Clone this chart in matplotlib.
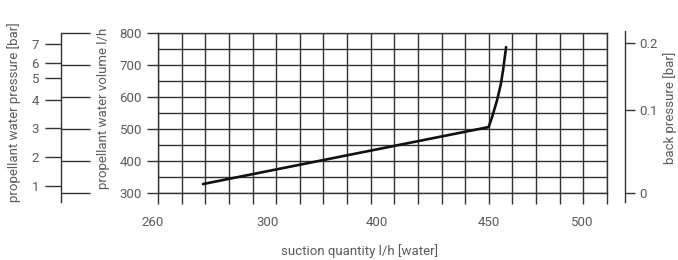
import numpy as np
import matplotlib
matplotlib.use("Agg")
import matplotlib.pyplot as plt
import matplotlib.transforms as mtransforms

# ---------------- data ----------------
# suction quantity axis labels (nomogram, non-linear spacing)
x_label_values = [260, 300, 400, 450, 500]
# characteristic curve: suction quantity l/h vs propellant water volume l/h
curve_suction = [277.4, 450.0, 452.0, 454.5, 456.5, 457.7, 458.5, 459.3]
curve_volume = [328.0, 506.0, 540.0, 590.0, 640.0, 684.0, 720.0, 756.0]
# propellant water volume axis
volume_ticks = [300, 400, 500, 600, 700, 800]
volume_minor = [350, 450, 550, 650, 750]
# propellant water pressure [bar] and equivalent volume l/h
pressure_ticks = [1, 2, 3, 4, 5, 6, 7]
pressure_equiv_volume = [322, 412, 503, 591, 659, 706, 766]
# back pressure [bar] and equivalent volume l/h
back_pressure_ticks = [0, 0.1, 0.2]
back_pressure_equiv_volume = [300, 559, 769]

# ---------------- layout (x axis calibration, grid units) ----------------
x_label_grid_pos = [-0.21, 4.65, 9.27, 13.99, 17.97]
n_grid = 20

QV = np.array(x_label_values, float)
QP = np.array(x_label_grid_pos, float)


def fwd(q):
    q = np.asarray(q, float)
    out = np.interp(q, QV, QP)
    sl = (QP[1] - QP[0]) / (QV[1] - QV[0])
    sr = (QP[-1] - QP[-2]) / (QV[-1] - QV[-2])
    out = np.where(q < QV[0], QP[0] + (q - QV[0]) * sl, out)
    out = np.where(q > QV[-1], QP[-1] + (q - QV[-1]) * sr, out)
    return out


def inv(p):
    p = np.asarray(p, float)
    out = np.interp(p, QP, QV)
    sl = (QV[1] - QV[0]) / (QP[1] - QP[0])
    sr = (QV[-1] - QV[-2]) / (QP[-1] - QP[-2])
    out = np.where(p < QP[0], QV[0] + (p - QP[0]) * sl, out)
    out = np.where(p > QP[-1], QV[-1] + (p - QP[-1]) * sr, out)
    return out


W, H = 678, 260
DPI = 100
PT = 72 / DPI  # points per pixel


def fx(px):
    return px / W


def fy(py):
    return 1 - py / H


plt.rcParams['font.family'] = ['Roboto', 'DejaVu Sans']
TXT = '#5a5a5a'
LINE = '#333333'
LW = 1.0
FS = 9.5

fig = plt.figure(figsize=(W / DPI, H / DPI), dpi=DPI)

# ---------------- main axes ----------------
L, R, T, B = 158, 607, 33, 193
ax = fig.add_axes([fx(L), fy(B), fx(R) - fx(L), fy(T) - fy(B)])
ax.set_xscale('function', functions=(fwd, inv))

grid_q = inv(np.arange(n_grid))
ax.set_xticks([])
ax.set_xticks(grid_q, minor=True)
ax.tick_params(axis='x', which='minor', length=11 * PT, width=LW, color=LINE,
               direction='out', labelbottom=False)

ax.set_yticks(volume_ticks)
ax.set_yticklabels([str(v) for v in volume_ticks], color=TXT, fontsize=FS)
ax.set_yticks(volume_minor, minor=True)
ax.tick_params(axis='y', which='major', length=11 * PT, width=LW, color=LINE,
               pad=5 * PT)
ax.tick_params(axis='y', which='minor', length=0)

ax.set_xlim(float(grid_q[0]), float(grid_q[-1]))
ax.set_ylim(300, 800)

ax.grid(True, axis='x', which='minor', color=LINE, lw=LW)
ax.grid(True, axis='y', which='both', color=LINE, lw=LW)
for s in ax.spines.values():
    s.set_color(LINE)
    s.set_linewidth(LW)

ax.plot(curve_suction, curve_volume, color='#111111', lw=1.9,
        solid_capstyle='round', solid_joinstyle='round', zorder=5)

# x labels (nomogram: not on grid lines)
trans = mtransforms.blended_transform_factory(ax.transData, ax.transAxes)
for v in x_label_values:
    ax.text(v, -(223 - B) / (B - T), str(v), transform=trans, ha='center',
            va='center', color=TXT, fontsize=FS)

# ---------------- propellant water pressure axis ----------------
vpp = 500 / (B - T)
axp = fig.add_axes([fx(61), fy(202), 0.0001, fy(33) - fy(202)])
axp.set_ylim(300 - (202 - B) * vpp, 800)
axp.set_xticks([])
for k in ['top', 'bottom', 'right']:
    axp.spines[k].set_visible(False)
axp.spines['left'].set_color(LINE)
axp.spines['left'].set_linewidth(LW)
axp.patch.set_visible(False)
axp.set_yticks(pressure_equiv_volume)
axp.set_yticklabels([str(v) for v in pressure_ticks], color=TXT, fontsize=FS)
axp.tick_params(axis='y', length=16 * PT, width=LW, color=LINE, pad=6 * PT)
axp.set_ylim(300 - (202 - B) * vpp, 800)

axp2 = axp.twinx()
for s in axp2.spines.values():
    s.set_visible(False)
axp2.set_yticks(volume_ticks)
axp2.set_yticklabels([])
axp2.tick_params(axis='y', length=29 * PT, width=LW, color=LINE)
axp2.set_ylim(axp.get_ylim())

# ---------------- back pressure axis ----------------
axb = fig.add_axes([fx(625), fy(202), 0.0001, fy(31) - fy(202)])
axb.set_xticks([])
for k in ['top', 'bottom', 'left']:
    axb.spines[k].set_visible(False)
axb.spines['right'].set_color(LINE)
axb.spines['right'].set_linewidth(LW)
axb.patch.set_visible(False)
axb.yaxis.tick_right()
axb.set_yticks(back_pressure_equiv_volume)
axb.set_yticklabels([str(v) for v in back_pressure_ticks], color=TXT,
                    fontsize=FS)
axb.tick_params(axis='y', length=10 * PT, width=LW, color=LINE, pad=4 * PT)
axb.set_ylim(300 - (202 - B) * vpp, 800 + (T - 31) * vpp)

# ---------------- axis titles ----------------
fig.text(fx(14), fy(112), 'propellant water pressure [bar]', rotation=90,
         ha='center', va='center', color=TXT, fontsize=FS)
fig.text(fx(103), fy(108), 'propellant water volume l/h', rotation=90,
         ha='center', va='center', color=TXT, fontsize=FS)
fig.text(fx(670), fy(108), 'back pressure [bar]', rotation=90,
         ha='center', va='center', color=TXT, fontsize=FS)
fig.text(fx(360), fy(251), 'suction quantity l/h [water]',
         ha='center', va='center', color=TXT, fontsize=FS)

fig.savefig('out.png', dpi=DPI)
